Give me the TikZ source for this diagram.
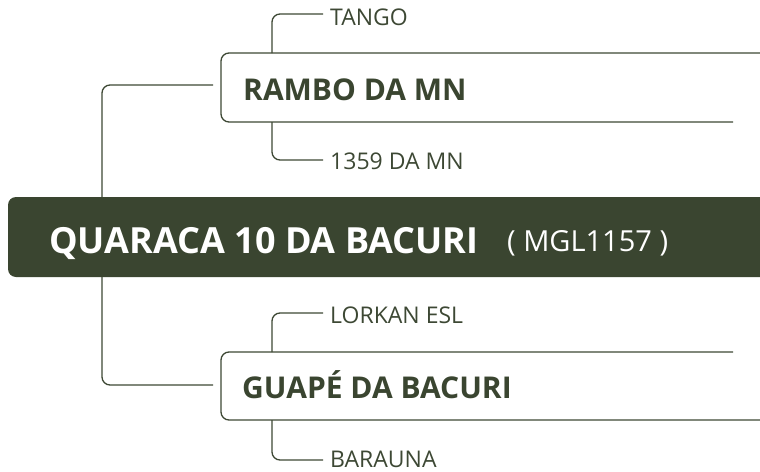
\documentclass[tikz,border=0pt]{standalone}
\usepackage{fontspec}
\setmainfont{Open Sans}
\definecolor{olive}{HTML}{3A4530}
\definecolor{lineol}{HTML}{3D4834}
\begin{document}
\begin{tikzpicture}[x=1pt,y=-1pt,
  conn/.style={draw=lineol,line width=1.3pt,rounded corners=8pt},
  boxline/.style={draw=lineol,line width=1.3pt,rounded corners=8pt},
  leaf/.style={anchor=base west,inner sep=0pt,text=lineol,font=\fontsize{23}{26}\selectfont},
  parent/.style={anchor=base west,inner sep=0pt,text=olive,font=\fontsize{30}{33}\bfseries},
]
\useasboundingbox (0,0) rectangle (760,471);
% left connector
\coordinate (ra) at (213,85);
\coordinate (gu) at (213,385);
\draw[conn] (ra) -- (102,85) -- (102,385) -- (gu);
% main box
\fill[olive,rounded corners=8pt] (8,197) rectangle (790,277);
\node[anchor=base west,inner sep=0pt,text=white,font=\fontsize{36}{39}\bfseries\selectfont] (main) at (49,253) {QUARACA 10 DA BACURI};
\node[anchor=base west,inner sep=0pt,text=white,font=\fontsize{29}{32}\selectfont] (code) at (507,251) {( MGL1157 )};
% RAMBO box
\draw[boxline] (760,53) -- (221,53) -- (221,122) -- (733,122);
\node[parent] (rambo) at (243,100) {RAMBO DA MN};
\coordinate (rt) at (272,53);
\coordinate (rb) at (272,122);
\node[leaf] (tango) at (330,25) {TANGO};
\node[leaf] (n1359) at (330,169) {1359 DA MN};
\draw[conn] (rt) -- (272,14) -- (323,14);
\draw[conn] (rb) -- (272,160) -- (323,160);
% GUAPE box
\draw[boxline] (733,352) -- (221,352) -- (221,420) -- (760,420);
\node[parent] (guape) at (242,398) {GUAPÉ DA BACURI};
\coordinate (gt) at (272,352);
\coordinate (gb) at (272,420);
\node[leaf] (lorkan) at (330,323) {LORKAN ESL};
\node[leaf] (barauna) at (330,467) {BARAUNA};
\draw[conn] (gt) -- (272,313) -- (323,313);
\draw[conn] (gb) -- (272,460) -- (323,460);
\end{tikzpicture}
\end{document}
